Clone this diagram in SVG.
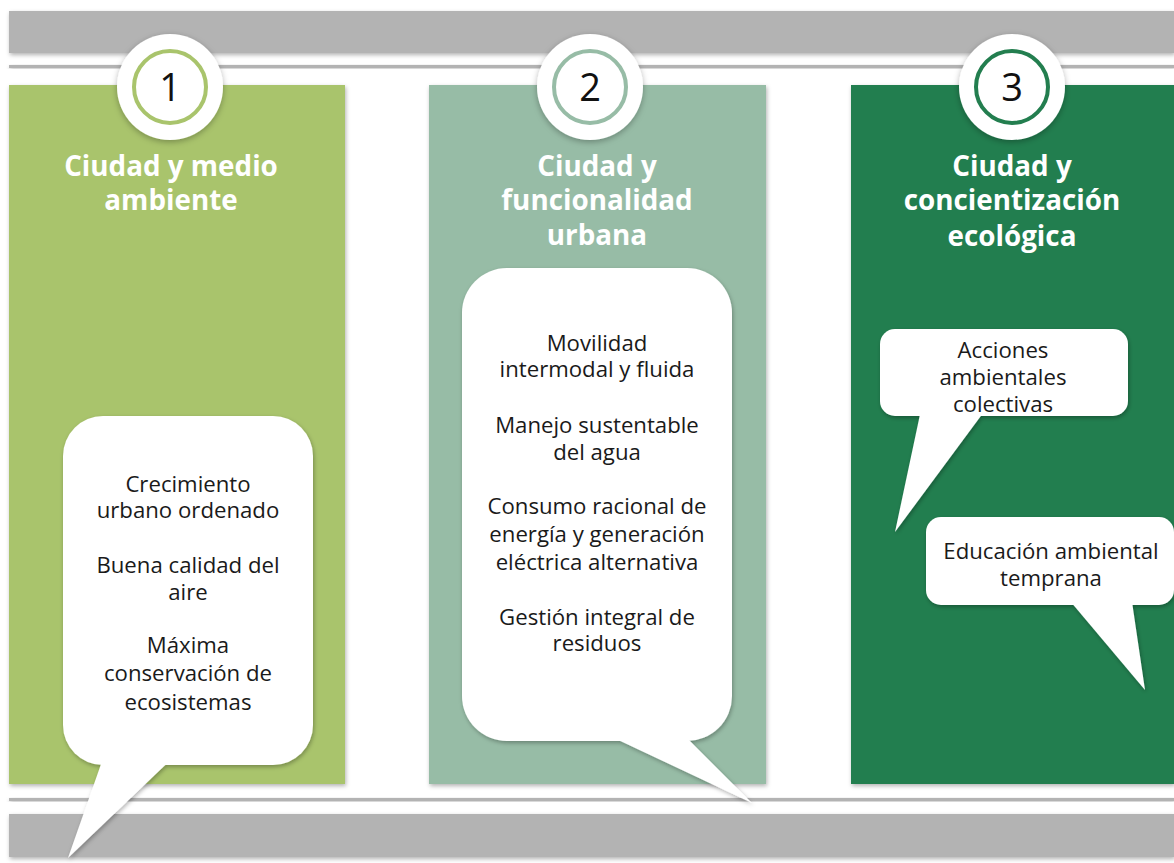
<svg xmlns="http://www.w3.org/2000/svg" width="1174" height="863" viewBox="0 0 1174 863">
<defs>
<filter id="sh" x="-20%" y="-20%" width="140%" height="140%">
<feDropShadow dx="1" dy="2" stdDeviation="2" flood-color="#000" flood-opacity="0.3"/>
</filter>
<filter id="shc" x="-30%" y="-30%" width="160%" height="160%">
<feDropShadow dx="0" dy="2" stdDeviation="3" flood-color="#000" flood-opacity="0.3"/>
</filter>
<style>
.t{font-family:"Open Sans",Lato,sans-serif;font-weight:bold;font-size:27.8px;fill:#fff;text-anchor:middle}
.b{font-family:"Open Sans",Lato,sans-serif;font-size:22.2px;fill:#1a1a1a;text-anchor:middle}
.n{font-family:"Open Sans",Lato,sans-serif;font-size:38px;fill:#111;text-anchor:middle}
.bub{fill:#fff}
</style>
</defs>
<rect width="1174" height="863" fill="#fff"/>
<g id="bands">
<rect x="9" y="11" width="1165" height="42" fill="#b3b3b3" filter="url(#sh)"/>
<rect x="9" y="65" width="1165" height="3" fill="#b3b3b3" filter="url(#sh)"/>
<rect x="9" y="798" width="1165" height="3" fill="#b3b3b3" filter="url(#sh)"/>
<rect x="9" y="814" width="1165" height="43" fill="#b3b3b3" filter="url(#sh)"/>
</g>
<g id="panel1">
<rect x="9" y="85" width="336" height="699" fill="#a9c46c" filter="url(#sh)"/>
<circle cx="170" cy="87" r="53" fill="#fff" filter="url(#shc)"/>
<circle cx="170" cy="87" r="36" fill="#fff" stroke="#a9c46c" stroke-width="4"/>
<text class="n" x="170" y="101">1</text>
<text class="t" x="171" y="176">Ciudad y medio</text>
<text class="t" x="171" y="210">ambiente</text>
</g>
<g id="panel2">
<rect x="429" y="85" width="337" height="699" fill="#97bca6" filter="url(#sh)"/>
<circle cx="590" cy="87" r="53" fill="#fff" filter="url(#shc)"/>
<circle cx="590" cy="87" r="36" fill="#fff" stroke="#97bca6" stroke-width="4"/>
<text class="n" x="590" y="101">2</text>
<text class="t" x="597" y="176">Ciudad y</text>
<text class="t" x="597" y="210">funcionalidad</text>
<text class="t" x="597" y="245">urbana</text>
</g>
<g id="panel3">
<rect x="851" y="85" width="323" height="699" fill="#237e4f" filter="url(#sh)"/>
<circle cx="1012" cy="87" r="53" fill="#fff" filter="url(#shc)"/>
<circle cx="1012" cy="87" r="36" fill="#fff" stroke="#237e4f" stroke-width="4"/>
<text class="n" x="1012" y="101">3</text>
<text class="t" x="1012" y="176">Ciudad y</text>
<text class="t" x="1012" y="210">concientización</text>
<text class="t" x="1012" y="246">ecológica</text>
</g>
<g id="bubble1">
<g filter="url(#sh)" class="bub">
<rect x="63" y="416" width="250" height="349" rx="40"/>
<polygon points="106,750 181,750 68,858"/>
</g>
<text class="b" x="188" y="492">Crecimiento</text>
<text class="b" x="188" y="518">urbano ordenado</text>
<text class="b" x="188" y="573">Buena calidad del</text>
<text class="b" x="188" y="600">aire</text>
<text class="b" x="188" y="653">Máxima</text>
<text class="b" x="188" y="681">conservación de</text>
<text class="b" x="188" y="710">ecosistemas</text>
</g>
<g id="bubble2">
<g filter="url(#sh)" class="bub">
<rect x="462" y="268" width="270" height="473" rx="45"/>
<polygon points="597,730 674,725 752,803"/>
</g>
<text class="b" x="597" y="351">Movilidad</text>
<text class="b" x="597" y="377">intermodal y fluida</text>
<text class="b" x="597" y="433">Manejo sustentable</text>
<text class="b" x="597" y="460">del agua</text>
<text class="b" x="597" y="514">Consumo racional de</text>
<text class="b" x="597" y="542">energía y generación</text>
<text class="b" x="597" y="570">eléctrica alternativa</text>
<text class="b" x="597" y="625">Gestión integral de</text>
<text class="b" x="597" y="651">residuos</text>
</g>
<g id="bubble3a">
<g filter="url(#sh)" class="bub">
<rect x="880" y="329" width="248" height="87" rx="15"/>
<polygon points="922,405 989,405 895,532"/>
</g>
<text class="b" x="1003" y="358">Acciones</text>
<text class="b" x="1003" y="385">ambientales</text>
<text class="b" x="1003" y="412">colectivas</text>
</g>
<g id="bubble3b">
<g filter="url(#sh)" class="bub">
<rect x="926" y="517" width="248" height="88" rx="15"/>
<polygon points="1065,595 1131,595 1145,690"/>
</g>
<text class="b" x="1051" y="559">Educación ambiental</text>
<text class="b" x="1051" y="586">temprana</text>
</g>
<g id="connectors"/>
</svg>
